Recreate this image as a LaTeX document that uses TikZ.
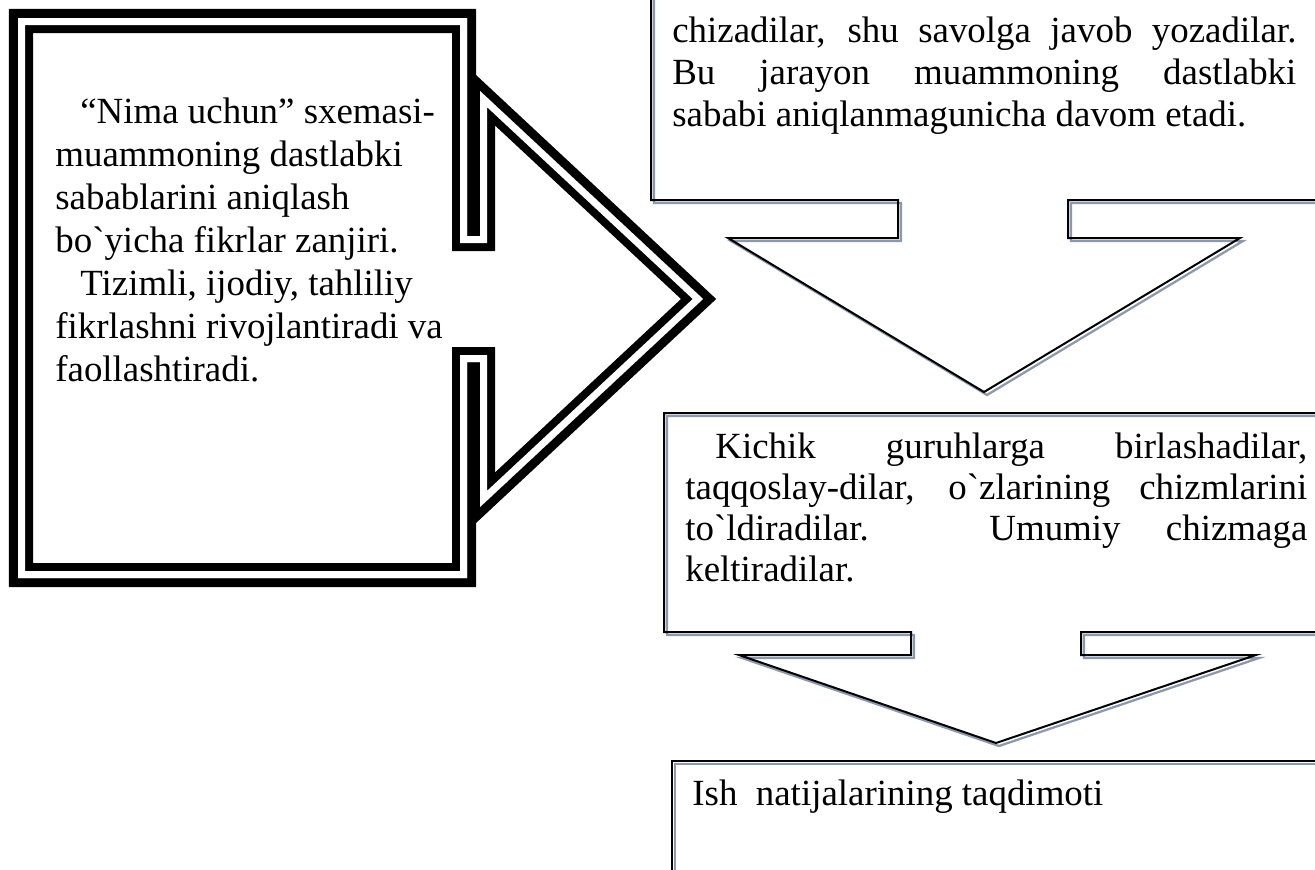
\documentclass[tikz,border=0pt]{standalone}
\usepackage{fontspec}
\setmainfont{Liberation Serif}
\definecolor{shadowgray}{RGB}{140,152,172}
\begin{document}
\begin{tikzpicture}[x=0.2mm,y=-0.2mm,
  boxshadow/.style={draw=shadowgray,line width=0.45mm,xshift=0.6mm,yshift=-0.6mm},
  boxedge/.style={draw=black,line width=0.4mm},
  txt/.style={anchor=base west,inner sep=0pt,font=\fontsize{21}{25}\selectfont}]
  \useasboundingbox (0,0) rectangle (1315,870);
  \clip (0,0) rectangle (1315,870);

  % left callout, thick-thin border
  \def\leftshape{(18,18) -- (467,18) -- (467,236) -- (480,236) -- (480,91)
    -- (703,299) -- (480,507) -- (480,362) -- (467,362) -- (467,578)
    -- (18,578) -- cycle}
  \begin{scope}
    \draw[line width=3.6mm] \leftshape;
    \fill[white] \leftshape;
    \clip \leftshape;
    \draw[line width=6mm] \leftshape;
    \draw[white,line width=2.8mm] \leftshape;
  \end{scope}

  % right boxes with down arrows
  \foreach \s in {boxshadow,boxedge}
  {
    \draw[\s] (651,-20) -- (651,200) -- (898,200) -- (898,238) -- (728,238)
      -- (984,392) -- (1240,238) -- (1068,238) -- (1068,200) -- (1340,200);
    \draw[\s] (1340,413) -- (664,413) -- (664,632) -- (911,632) -- (911,655)
      -- (739,655) -- (996,743) -- (1256,655) -- (1081,655) -- (1081,632)
      -- (1340,632);
    \draw[\s] (1340,761) -- (672,761) -- (672,890);
  }

  \node[txt] (why1) at (80,123) {“Nima uchun” sxemasi-};
  \node[txt] (why2) at (55,166) {muammoning dastlabki};
  \node[txt] (why3) at (55,209) {sabablarini aniqlash};
  \node[txt] (why4) at (55,252) {bo\textasciigrave yicha fikrlar zanjiri.};
  \node[txt] (why5) at (80,295) {Tizimli, ijodiy, tahliliy};
  \node[txt] (why6) at (55,338) {fikrlashni rivojlantiradi va};
  \node[txt] (why7) at (55,381) {faollashtiradi.};

  \node[txt] (draw1) at (672,42) {\makebox[124.8mm][s]{chizadilar, shu savolga javob yozadilar.}};
  \node[txt] (draw2) at (672,84) {\makebox[124.8mm][s]{Bu jarayon muammoning dastlabki}};
  \node[txt] (draw3) at (672,126) {sababi aniqlanmagunicha davom etadi.};

  \node[txt] (group1) at (715,458) {\makebox[118.4mm][s]{Kichik guruhlarga birlashadilar,}};
  \node[txt] (group2) at (685,499) {\makebox[124.4mm][s]{taqqoslay-dilar, o\textasciigrave zlarining chizmlarini}};
  \node[txt] (group3) at (685,540) {\makebox[124.4mm][s]{to\textasciigrave ldiradilar. Umumiy chizmaga}};
  \node[txt] (group4) at (685,581) {keltiradilar.};

  \node[txt] (result) at (692,805) {Ish\ \ natijalarining taqdimoti};
\end{tikzpicture}
\end{document}
